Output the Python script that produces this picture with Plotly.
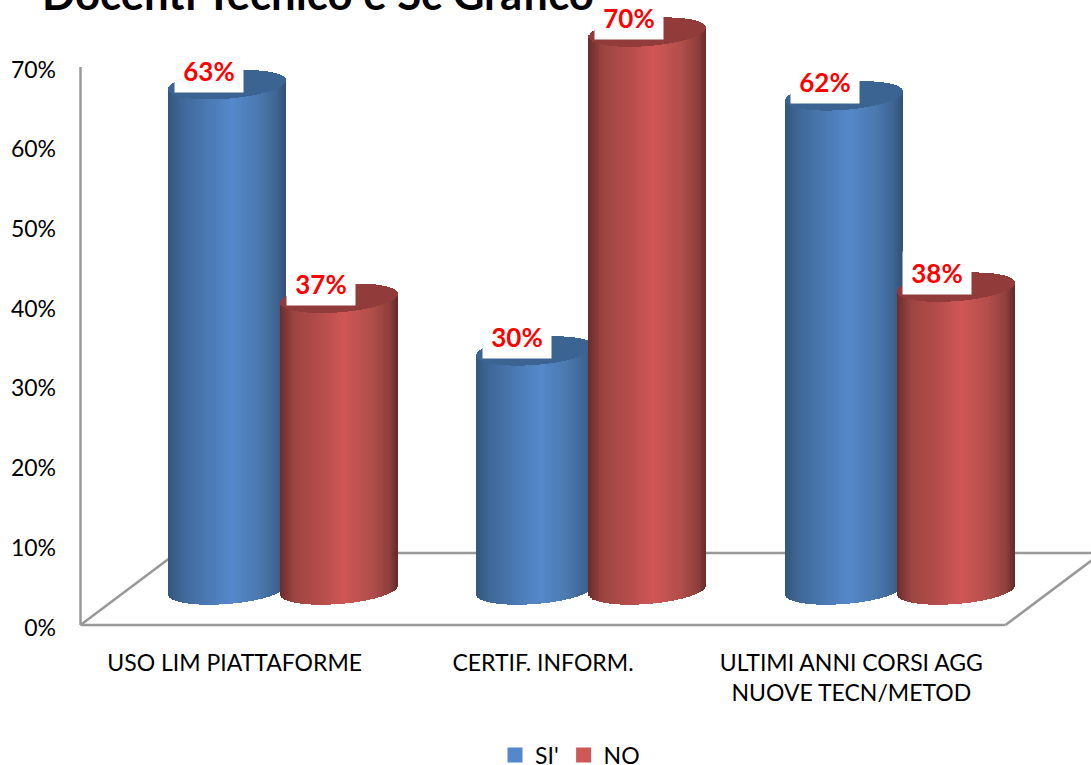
import math
import plotly.graph_objects as go

# ---- data ----
categories = ["USO LIM PIATTAFORME", "CERTIF. INFORM.", "ULTIMI ANNI CORSI AGG<br>NUOVE TECN/METOD"]
series_names = ["SI'", "NO"]
si_values = [63.4, 30, 62]
no_values = [36.6, 70, 38]
y_ticks = [0, 10, 20, 30, 40, 50, 60, 70]
title_text = "Docenti Tecnico e Sc Grafico"

# ---- styling ----
PX_Y = 7.97      # px per percent
PX_X = 308.33    # px per category
W, H = 1091, 765
AX_L, AX_B = 80.5, 625    # page position of the chart's origin
L, B = 70, 130            # plot area is a little larger so that the frame lines are not clipped
FONT = "Lato"
BASE = 35 / PX_Y              # cylinder foot centre above axis floor
RY = 14 / PX_Y                # ellipse half height
SHEAR = 4.5 / PX_Y            # tilt of the ellipse
CYL_W = 117 / PX_X
OFF = {"SI'": -7.5 / PX_X, "NO": 104.5 / PX_X}
STRIPS = 117
LABEL_NUDGE = 2.5 / PX_Y
GRAD = {
    "SI'": [(0, "#34567c"), (.12, "#3f6898"), (.35, "#4b7ab4"), (.55, "#5588cb"), (.78, "#4a78ae"), (.93, "#3d6491"), (1, "#33527a")],
    "NO": [(0, "#6a2d2c"), (.12, "#9c4542"), (.35, "#b54d4a"), (.55, "#cf5755"), (.78, "#b34e4b"), (.93, "#8f403d"), (1, "#672b2a")],
}
TOP = {"SI'": "#3c6492", "NO": "#913c3a"}


def mix(stops, t):
    for (a, ca), (b, cb) in zip(stops, stops[1:]):
        if t <= b:
            f = (t - a) / (b - a)
            ra = [int(ca[i:i + 2], 16) for i in (1, 3, 5)]
            rb = [int(cb[i:i + 2], 16) for i in (1, 3, 5)]
            return "rgb(%d,%d,%d)" % tuple(round(p + (q - p) * f) for p, q in zip(ra, rb))
    return stops[-1][1]


def cylinder_traces(name, values):
    xs, widths, colours, body_base, body_h, top_base, top_h = [], [], [], [], [], [], []
    for i, v in enumerate(values):
        cx = i + OFF[name]
        for s in range(STRIPS):
            t = (s + 0.5) / STRIPS
            u = 2 * t - 1
            half = math.sqrt(max(0, 1 - u * u)) * RY
            tilt = SHEAR * u
            foot = BASE + tilt - half
            front = BASE + v + tilt - half
            back = BASE + v + tilt + half
            xs.append(cx + u * CYL_W / 2)
            widths.append(CYL_W / STRIPS)
            colours.append(mix(GRAD[name], t))
            body_base.append(foot)
            body_h.append(front - foot)
            top_base.append(front)
            top_h.append(back - front)
    body = go.Bar(x=xs, y=body_h, base=body_base, width=widths, marker=dict(color=colours, line_width=0),
                  showlegend=False, hoverinfo="skip")
    top = go.Bar(x=xs, y=top_h, base=top_base, width=widths, marker=dict(color=TOP[name], line_width=0),
                 showlegend=False, hoverinfo="skip")
    return [body, top]


fig = go.Figure()
for nm, vals in zip(series_names, [si_values, no_values]):
    fig.add_traces(cylinder_traces(nm, vals))
    fig.add_trace(go.Scatter(x=[None], y=[None], mode="markers", name=nm,
                             marker=dict(symbol="square", size=15, color=GRAD[nm][3][1])))

annots = []
for nm, vals in zip(series_names, [si_values, no_values]):
    for i, v in enumerate(vals):
        annots.append(dict(x=i + OFF[nm], y=BASE + v, xref="x", yref="y", text="<b>%.0f%%</b>" % v, showarrow=False,
                           xshift=-18.5, yshift=14, width=66, height=40, bgcolor="white",
                           font=dict(family=FONT, size=26, color="#ff0000")))

GRID = "#989898"
DX, DY = 96 / PX_X, 72 / PX_Y
x0, x1 = -0.5, 2.5
shape_lines = [
    (x0, 70, x0, 0), (x0, 0, x1, 0), (x0, 0, x0 + DX, DY),
    (x1, 0, x1 + DX, DY), (x0 + DX, DY, x1 + DX, DY),
]
shapes = [dict(type="line", xref="x", yref="y", x0=a, y0=b, x1=c, y1=d, layer="below",
               line=dict(color=GRID, width=2.5)) for a, b, c, d in shape_lines]

fig.update_layout(
    width=W, height=H, autosize=False, barmode="overlay", bargap=0,
    margin=dict(l=L, r=0, t=0, b=B, pad=0),
    paper_bgcolor="white", plot_bgcolor="white",
    font=dict(family=FONT, size=23, color="#000000"),
    title=dict(text="<b>%s</b>" % title_text, x=42 / W, xanchor="left", y=1, yanchor="top",
               pad=dict(t=-21), font=dict(family=FONT, size=43.7, color="black")),
    xaxis=dict(range=[x0 - (AX_L - L) / PX_X, x0 + (W - AX_L) / PX_X], tickmode="array", tickvals=[0, 1, 2],
               ticktext=categories, showgrid=False, zeroline=False, showline=False, ticks="",
               ticklabelstandoff=12, tickfont=dict(family=FONT, size=23)),
    yaxis=dict(range=[-(H - B - AX_B) / PX_Y, AX_B / PX_Y], tickmode="array",
               tickvals=[t - LABEL_NUDGE for t in y_ticks],
               ticktext=["%d%%" % t for t in y_ticks], showgrid=False, zeroline=False, showline=False, ticks="",
               ticklabelstandoff=13, tickfont=dict(family=FONT, size=23)),
    shapes=shapes, annotations=annots,
    legend=dict(orientation="h", x=495 / W, xanchor="left", xref="container", y=10 / H, yanchor="middle",
                yref="container", font=dict(family=FONT, size=23), itemsizing="trace"),
    hovermode=False,
)
fig.write_html("out.html", post_script="document.body.style.margin='0';", config=dict(displayModeBar=False))
